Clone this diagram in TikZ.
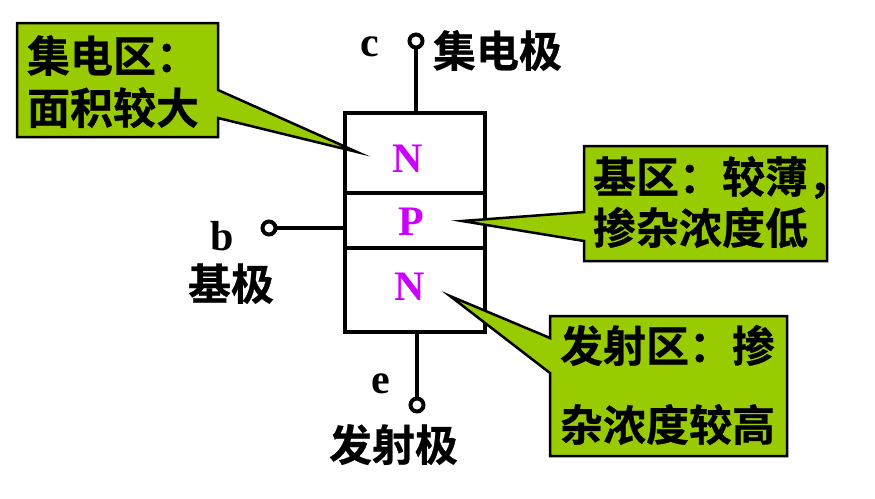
\documentclass[tikz,border=0pt]{standalone}
\usepackage{fontspec}
\setmainfont{Liberation Serif}
\newfontfamily\cjkbold[FakeBold=0.6]{Noto Sans CJK SC Bold}
\definecolor{calloutgreen}{HTML}{99CC00}
\definecolor{regionpurple}{HTML}{CC00FF}
\tikzset{
  region/.style={draw=black,line width=4pt,fill=white,minimum width=140pt,inner sep=0pt,outer sep=0pt},
  wire/.style={draw=black,line width=4pt},
  terminal/.style={circle,draw=black,line width=4pt,fill=white,minimum size=13pt,inner sep=0pt,outer sep=0pt},
  callout/.style={draw=black,line width=2.5pt,fill=calloutgreen,line join=miter,miter limit=20},
  cntext/.style={anchor=base west,inner sep=0pt,outer sep=0pt,font=\cjkbold\fontsize{43}{43}\selectfont},
  lettertext/.style={anchor=base,inner sep=0pt,outer sep=0pt,font=\bfseries\fontsize{42}{42}\selectfont,text=black},
  typetext/.style={lettertext,text=regionpurple}
}
\begin{document}
\begin{tikzpicture}[x=1pt,y=-1pt]
\useasboundingbox (0,0) rectangle (875,498);
% device regions
\node[region,minimum height=80pt,anchor=north west] (nc) at (345,113) {};
\node[region,minimum height=55pt,anchor=north west] (pb) at (345,193) {};
\node[region,minimum height=84pt,anchor=north west] (ne) at (345,248) {};
% terminals
\node[terminal] (tc) at (416,41) {};
\node[terminal] (tb) at (269,228) {};
\node[terminal] (te) at (417,405) {};
\draw[wire] (tc) -- (tc |- nc.north);
\draw[wire] (tb) -- (tb -| pb.west);
\draw[wire] (te) -- (te |- ne.south);
% region letters
\node[typetext] (ln1) at (408,172) {N};
\node[typetext] (lp) at (411,235) {P};
\node[typetext] (ln2) at (410,300) {N};
% terminal letters
\node[lettertext] (lc) at (370,56) {c};
\node[lettertext] (lb) at (222,250) {b};
\node[lettertext] (le) at (381,393) {e};
% terminal names
\node[cntext] (nmc) at (433,67) {集电极};
\node[cntext] (nmb) at (188,300) {基极};
\node[cntext] (nme) at (329,461) {发射极};
% callouts
\draw[callout] (17,23) -- (218,23) -- (218,90) -- (357,152) -- (218,118) -- (218,137) -- (17,137) -- cycle;
\draw[callout] (584,146) -- (827,146) -- (827,261) -- (584,261) -- (584,241) -- (462,221) -- (584,212) -- cycle;
\draw[callout] (550,316) -- (787,316) -- (787,456) -- (550,456) -- (550,373) -- (450,296) -- (550,338) -- cycle;
\node[cntext] (t1a) at (27,72) {集电区：};
\node[cntext] (t1b) at (27,124) {面积较大};
\node[cntext] (t2a) at (593,193) {基区：较薄，};
\node[cntext] (t2b) at (593,244) {掺杂浓度低};
\node[cntext] (t3a) at (560,362) {发射区：掺};
\node[cntext] (t3b) at (560,441) {杂浓度较高};
\end{tikzpicture}
\end{document}
